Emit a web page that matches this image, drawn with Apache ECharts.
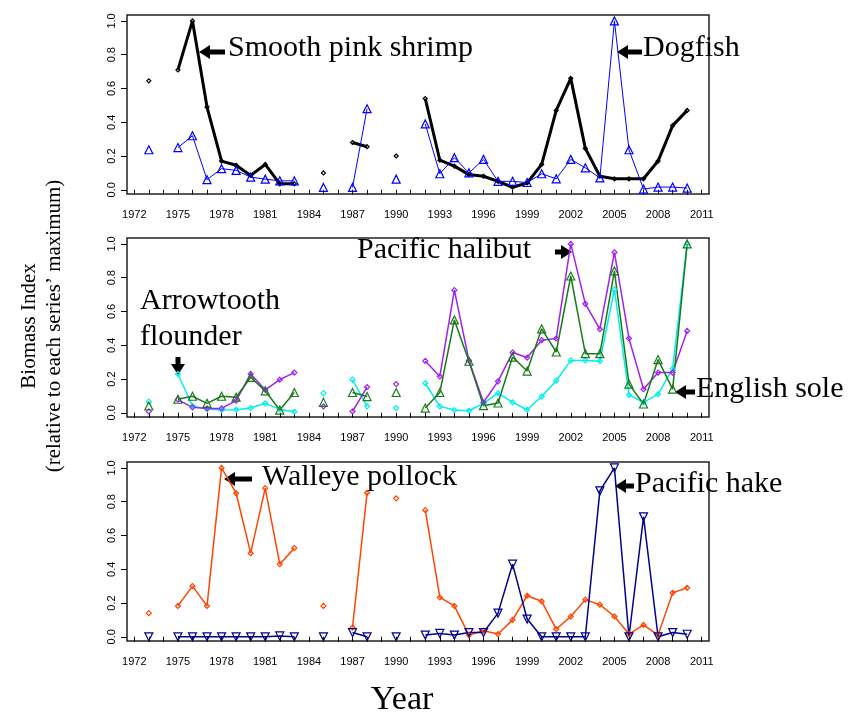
<!DOCTYPE html>
<html>
<head>
<meta charset="utf-8">
<script src="https://cdn.jsdelivr.net/npm/echarts@6/dist/echarts.min.js"></script>
<style>
  html, body { margin: 0; padding: 0; background: #fff; }
  #chart { width: 849px; height: 717px; }
</style>
</head>
<body>
<div id="chart"></div>
<script>
// survey years (null values = no survey that year)
var years = [1973, 1974, 1975, 1976, 1977, 1978, 1979, 1980, 1981, 1982, 1983, 1984, 1985, 1986, 1987, 1988, 1989, 1990, 1991,
  1992, 1993, 1994, 1995, 1996, 1997, 1998, 1999, 2000, 2001, 2002, 2003, 2004, 2005, 2006, 2007, 2008, 2009, 2010];

// top panel
var shrimp = [0.645, null, 0.71, 1.0, 0.49, 0.17, 0.145, 0.085, 0.15, 0.035, 0.035, null, 0.10, null, 0.28, 0.255, null, 0.20, null,
  0.54, 0.175, 0.14, 0.09, 0.08, 0.05, 0.015, 0.04, 0.15, 0.47, 0.66, 0.245, 0.08, 0.065, 0.065, 0.065, 0.17, 0.38, 0.47];
var dogfish = [0.237, null, 0.25, 0.32, 0.06, 0.125, 0.115, 0.075, 0.063, 0.053, 0.053, null, 0.014, null, 0.014, 0.48, null, 0.063, null,
  0.39, 0.095, 0.19, 0.10, 0.18, 0.05, 0.05, 0.043, 0.095, 0.065, 0.18, 0.13, 0.07, 1.0, 0.237, 0.004, 0.016, 0.016, 0.01];

// middle panel
var arrowtooth = [0.066, null, 0.23, 0.04, 0.022, 0.016, 0.018, 0.028, 0.056, 0.02, 0.006, null, 0.116, null, 0.196, 0.038, null, 0.028, null,
  0.175, 0.038, 0.016, 0.012, 0.056, 0.116, 0.062, 0.018, 0.096, 0.19, 0.31, 0.31, 0.305, 0.73, 0.106, 0.062, 0.11, 0.26, 1.0];
var halibut = [0.008, null, 0.078, 0.032, 0.026, 0.026, 0.072, 0.23, 0.136, 0.196, 0.238, null, 0.038, null, 0.008, 0.152, null, 0.17, null,
  0.307, 0.215, 0.726, 0.31, 0.062, 0.186, 0.357, 0.327, 0.43, 0.44, 1.0, 0.645, 0.495, 0.95, 0.44, 0.14, 0.238, 0.238, 0.485];
var englishSole = [0.04, null, 0.08, 0.098, 0.056, 0.098, 0.092, 0.21, 0.13, 0.016, 0.12, null, 0.062, null, 0.12, 0.096, null, 0.12, null,
  0.028, 0.12, 0.55, 0.305, 0.042, 0.058, 0.33, 0.247, 0.497, 0.36, 0.81, 0.35, 0.35, 0.84, 0.17, 0.052, 0.315, 0.14, 1.0];

// bottom panel
var pollock = [0.14, null, 0.183, 0.30, 0.183, 1.0, 0.85, 0.495, 0.88, 0.43, 0.525, null, 0.183, null, 0.055, 0.853, null, 0.82, null,
  0.75, 0.233, 0.183, 0.01, 0.036, 0.016, 0.1, 0.243, 0.21, 0.045, 0.12, 0.22, 0.19, 0.12, 0.016, 0.07, 0.01, 0.26, 0.29];
var hake = [0.0, null, 0.0, 0.0, 0.0, 0.0, 0.0, 0.0, 0.0, 0.005, 0.0, null, 0.0, null, 0.025, 0.0, null, 0.0, null,
  0.01, 0.02, 0.01, 0.025, 0.025, 0.14, 0.43, 0.105, 0.0, 0.0, 0.0, 0.0, 0.864, 1.0, 0.0, 0.71, 0.0, 0.025, 0.015];

// axis ticks
var xTicks = [1972, 1973, 1974, 1975, 1976, 1977, 1978, 1979, 1980, 1981, 1982, 1983, 1984, 1985, 1986, 1987, 1988, 1989, 1990, 1991,
  1992, 1993, 1994, 1995, 1996, 1997, 1998, 1999, 2000, 2001, 2002, 2003, 2004, 2005, 2006, 2007, 2008, 2009, 2010, 2011];
var xLabels = [1972, 1975, 1978, 1981, 1984, 1987, 1990, 1993, 1996, 1999, 2002, 2005, 2008, 2011];
var yTicks = [0, 0.2, 0.4, 0.6, 0.8, 1.0];

var chart = echarts.init(document.getElementById('chart'));

var gridTops = [15, 238, 462];
var serif = '"Liberation Serif", "Times New Roman", serif';

function pairs(vals) {
  return years.map(function (y, i) {
    return [y, vals[i] == null ? '-' : vals[i]];
  });
}

function lineSeries(name, vals, panel, color, width, symbol, size, rotate) {
  return {
    name: name,
    type: 'line',
    xAxisIndex: panel,
    yAxisIndex: panel,
    data: pairs(vals),
    connectNulls: false,
    showSymbol: true,
    showAllSymbol: true,
    symbol: symbol,
    symbolSize: size,
    symbolRotate: rotate || 0,
    lineStyle: { color: color, width: width },
    itemStyle: { color: 'rgba(255,255,255,0)', borderColor: color, borderWidth: 1.2 },
    emphasis: { disabled: true }
  };
}

// arrow polygon pointing to (tx, ty)
function arrow(tx, ty, dir, len) {
  var hl = 11, hh = 7, sh = 2.5, p;
  if (dir === 'left') {
    p = [[0, 0], [hl, -hh], [hl, -sh], [len, -sh], [len, sh], [hl, sh], [hl, hh]];
  } else if (dir === 'right') {
    p = [[0, 0], [-hl, -hh], [-hl, -sh], [-len, -sh], [-len, sh], [-hl, sh], [-hl, hh]];
  } else {
    p = [[0, 0], [-hh, -hl], [-sh, -hl], [-sh, -len], [sh, -len], [sh, -hl], [hh, -hl]];
  }
  return {
    type: 'polygon',
    shape: { points: p.map(function (q) { return [tx + q[0], ty + q[1]]; }) },
    style: { fill: '#000' }
  };
}

function label(text, x, y, size) {
  return {
    type: 'text',
    x: x, y: y,
    style: { text: text, font: (size || 30) + 'px ' + serif, fill: '#000', align: 'left', verticalAlign: 'middle' }
  };
}

var grids = [], xAxes = [], yAxes = [];
gridTops.forEach(function (top, i) {
  grids.push({ left: 127, right: 140, top: top, height: 179, show: true, borderColor: '#222', borderWidth: 1.5, containLabel: false });
  xAxes.push({
    type: 'value', gridIndex: i, min: 1971.5, max: 2011.5,
    axisLine: { show: false }, splitLine: { show: false },
    axisTick: { show: true, length: 5, customValues: xTicks, lineStyle: { color: '#000', width: 1 } },
    axisLabel: {
      customValues: xLabels, margin: 15, fontSize: 11, color: '#000', fontFamily: 'Liberation Sans',
      hideOverlap: false, formatter: function (v) { return String(Math.round(v)); }
    }
  });
  yAxes.push({
    type: 'value', gridIndex: i, min: -0.025, max: 1.035,
    axisLine: { show: false }, splitLine: { show: false },
    axisTick: { show: true, length: 6, customValues: yTicks, lineStyle: { color: '#000', width: 1 } },
    axisLabel: {
      customValues: yTicks, rotate: 90, margin: 10, fontSize: 11, color: '#000', fontFamily: 'Liberation Sans',
      formatter: function (v) { return v.toFixed(1); }
    }
  });
});

var option = {
  animation: false,
  backgroundColor: '#fff',
  grid: grids,
  xAxis: xAxes,
  yAxis: yAxes,
  series: [
    lineSeries('Smooth pink shrimp', shrimp, 0, '#000000', 3, 'diamond', 4),
    lineSeries('Dogfish', dogfish, 0, '#0000ff', 1, 'triangle', 8),
    lineSeries('Arrowtooth flounder', arrowtooth, 1, '#00eeee', 1.5, 'diamond', 5),
    lineSeries('Pacific halibut', halibut, 1, '#a020f0', 1.5, 'diamond', 5),
    lineSeries('English sole', englishSole, 1, '#1a7a1a', 1.5, 'triangle', 8),
    lineSeries('Walleye pollock', pollock, 2, '#ff4500', 1.5, 'diamond', 5),
    lineSeries('Pacific hake', hake, 2, '#00008b', 1.5, 'triangle', 8, 180)
  ],
  graphic: [
    label('Smooth pink shrimp', 228, 48),
    arrow(199, 52, 'left', 26),
    label('Dogfish', 643, 48),
    arrow(617, 52, 'left', 25),
    label('Pacific halibut', 357, 250),
    arrow(572, 252, 'right', 17),
    label('Arrowtooth', 140, 301),
    label('flounder', 140, 337),
    arrow(178, 375, 'down', 18),
    label('English sole', 696, 389),
    arrow(675, 392, 'left', 20),
    label('Walleye pollock', 262, 477),
    arrow(224, 479, 'left', 28),
    label('Pacific hake', 635, 484),
    arrow(615, 486, 'left', 19),
    {
      type: 'text', x: 29, y: 326, rotation: Math.PI / 2,
      style: { text: 'Biomass Index', font: '21px ' + serif, fill: '#000', align: 'center', verticalAlign: 'middle' }
    },
    {
      type: 'text', x: 54, y: 326, rotation: Math.PI / 2,
      style: { text: '(relative to each series\u2019 maximum)', font: '21px ' + serif, fill: '#000', align: 'center', verticalAlign: 'middle' }
    },
    {
      type: 'text', x: 402, y: 700,
      style: { text: 'Year', font: '34px ' + serif, fill: '#000', align: 'center', verticalAlign: 'middle' }
    }
  ]
};

chart.setOption(option);
</script>
</body>
</html>
